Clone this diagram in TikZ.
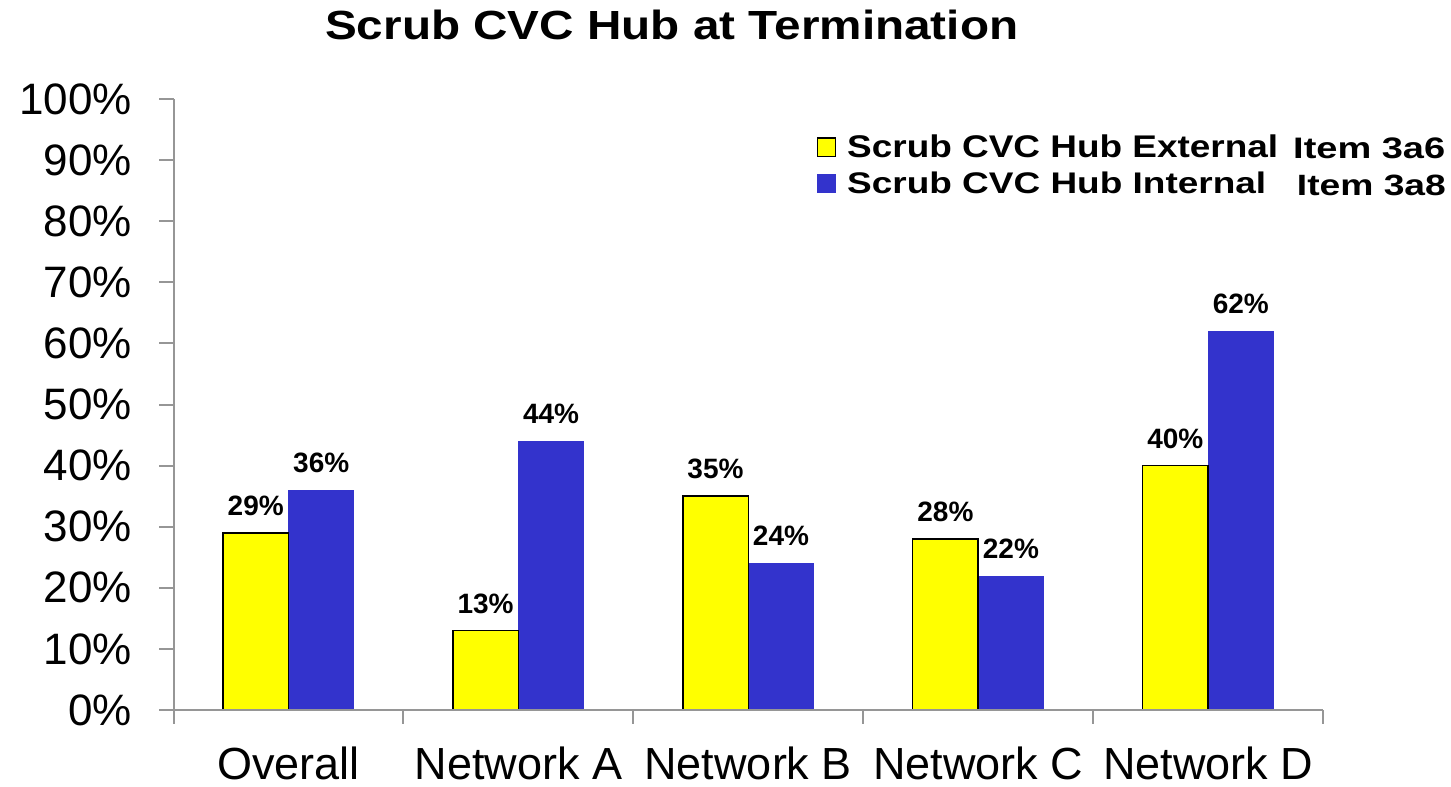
\documentclass[tikz,border=0pt]{standalone}
\usepackage{fontspec}
\usepackage{graphicx}
\setmainfont{Liberation Sans}
\definecolor{baryellow}{RGB}{255,255,0}
\definecolor{barblue}{RGB}{51,51,204}
\definecolor{axisgray}{RGB}{150,150,150}
\begin{document}
\begin{tikzpicture}[x=1pt,y=-1pt,
  ybar/.style={fill=baryellow,draw=black,line width=1.5pt},
  bbar/.style={fill=barblue},
  axisline/.style={draw=axisgray,line width=2pt},
  ticklab/.style={anchor=east,inner sep=0pt,font=\fontsize{44}{44}\selectfont},
  catlab/.style={anchor=base,inner sep=0pt,text depth=0pt,font=\fontsize{45}{45}\selectfont},
  vallab/.style={anchor=base,inner sep=0pt,font=\fontsize{28}{28}\selectfont\bfseries},
  boldtext/.style={anchor=base west,inner sep=0pt,font=\bfseries},
]
\useasboundingbox (0,0) rectangle (1451,787);
% bars
\foreach \i/\a/\b/\name in {0/29/36/Overall,1/13/44/Network A,2/35/24/Network B,3/28/22/Network C,4/40/62/Network D} {
  \pgfmathsetmacro\c{288.45+229.9*\i}
  \pgfmathsetmacro\ya{710-6.11*\a}
  \pgfmathsetmacro\yb{710-6.11*\b}
  \fill[bbar] (\c,710) rectangle (\c+65.5,\yb);
  \draw[ybar] (\c-65.5,710) rectangle (\c,\ya);
  \node[vallab] (va\i) at (\c-32.75,\ya-17.5) {\a\%};
  \node[vallab] (vb\i) at (\c+32.75,\yb-17.5) {\b\%};
  \node[catlab] (cat\i) at (\c,779.5) {\name};
}
% y axis ticks and labels
\foreach \v in {0,...,10} {
  \pgfmathsetmacro\yy{710-61.1*\v}
  \pgfmathtruncatemacro\pct{\v*10}
  \draw[axisline] (159,\yy) -- (173.5,\yy);
  \node[ticklab] (t\v) at (132,\yy) {\pct\%};
}
\draw[axisline] (173.5,99) -- (173.5,710);
\draw[axisline] (159,710) -- (1323,710);
\foreach \k in {0,...,5} {
  \draw[axisline] (173.5+229.9*\k,710) -- (173.5+229.9*\k,724);
}
% legend
\node[draw=black,fill=baryellow,line width=1.5pt,minimum width=18pt,minimum height=18.5pt,inner sep=0pt] (ly) at (826.5,147) {};
\node[fill=barblue,minimum width=19pt,minimum height=19pt,inner sep=0pt] (lb) at (826.5,183.5) {};
\node[boldtext] (lt1) at (847,157) {\resizebox{431pt}{22.7pt}{Scrub CVC Hub External}};
\node[boldtext] (lt2) at (847,193) {\resizebox{419pt}{21.6pt}{Scrub CVC Hub Internal}};
\node[boldtext] (it1) at (1293,158) {\resizebox{152pt}{20.7pt}{Item 3a6}};
\node[boldtext] (it2) at (1296.7,195) {\resizebox{149pt}{20.5pt}{Item 3a8}};
% title
\node[boldtext] (title) at (325,39) {\resizebox{693pt}{29.5pt}{Scrub CVC Hub at Termination}};
\end{tikzpicture}
\end{document}
